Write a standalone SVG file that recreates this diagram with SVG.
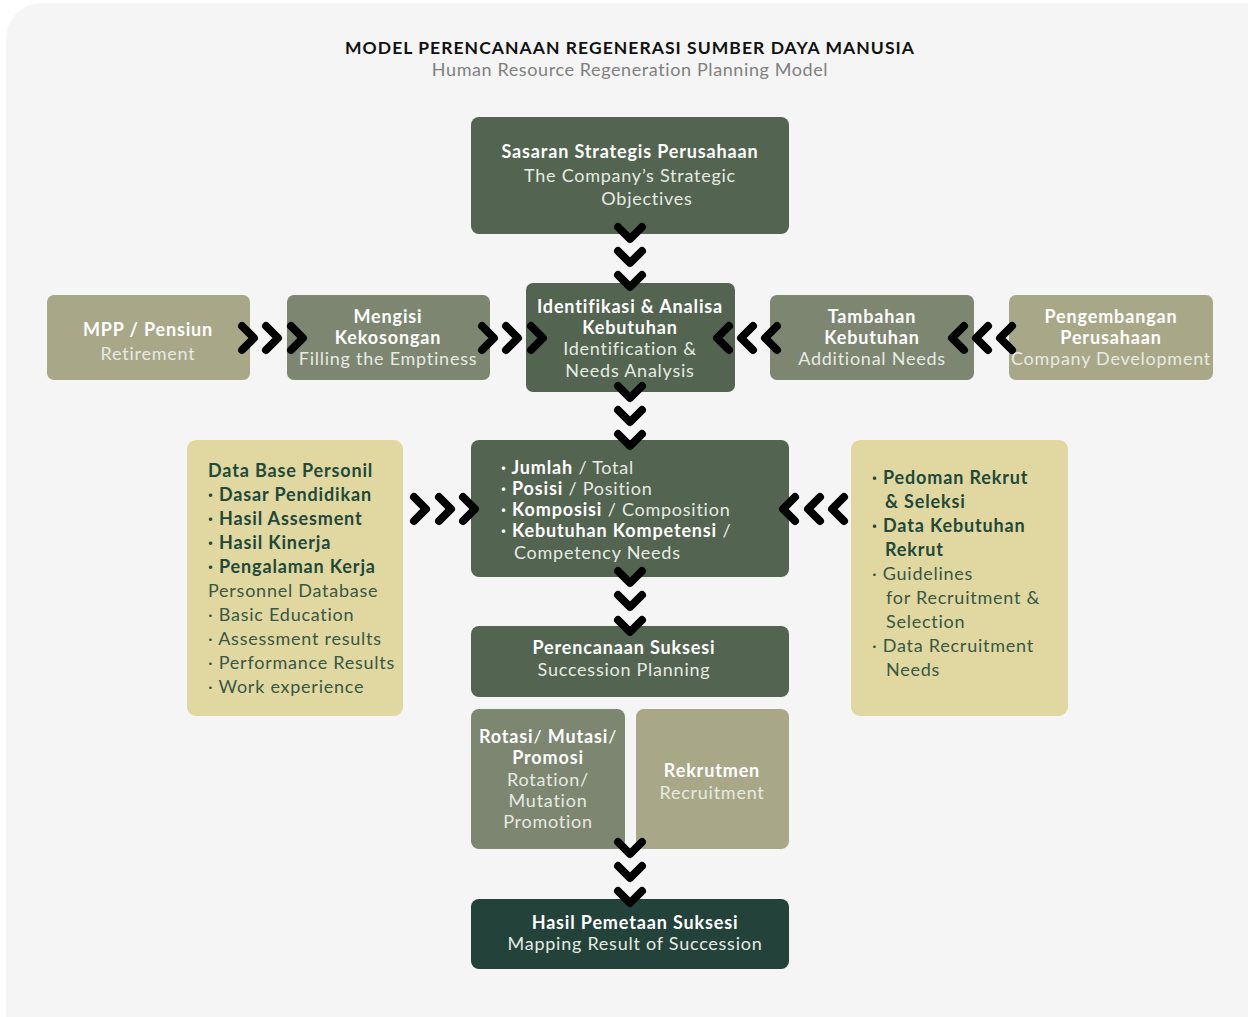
<svg xmlns="http://www.w3.org/2000/svg" width="1248" height="1017" viewBox="0 0 1248 1017">
<defs>
<style>
text{font-family:Lato,"Open Sans","Liberation Sans",sans-serif;font-size:18px;letter-spacing:0.85px}
.b{font-weight:700}
.l{font-weight:400;letter-spacing:0.75px}
.c{text-anchor:middle}
.w{fill:#ffffff}
.wl{fill:#e6eae2}
.d{fill:#22483a}
.dl{fill:#385744}
.chev{fill:none;stroke:#000;stroke-width:8;stroke-linecap:round;stroke-linejoin:round}
.f1{fill:#536451}
.f2{fill:#7d8670}
.f3{fill:#a8a888}
.fy{fill:#e0d8a0}
.fd{fill:#22423a}
</style>
<path id="cd" class="chev" d="M-12,-6 L0,6 L12,-6"/>
<path id="cr" class="chev" d="M-6,-12 L6,0 L-6,12"/>
<path id="cl" class="chev" d="M6,-12 L-6,0 L6,12"/>
</defs>
<rect x="0" y="0" width="1248" height="1017" fill="#ffffff"/>
<rect x="6" y="3" width="1280" height="1060" rx="36" fill="#f5f5f5"/>
<g id="title">
<text class="c" x="630" y="54" fill="#111" style="font-weight:700;font-size:17.5px;letter-spacing:1.05px">MODEL PERENCANAAN REGENERASI SUMBER DAYA MANUSIA</text>
<text class="c" x="630" y="76" fill="#808080" style="letter-spacing:0.6px">Human Resource Regeneration Planning Model</text>
</g>
<g id="n-sasaran">
<rect class="f1" x="471" y="117" width="318" height="117" rx="8"/>
<text class="c b w" x="630" y="158">Sasaran Strategis Perusahaan</text>
<text class="c l wl" x="630" y="182">The Company’s Strategic</text>
<text class="c l wl" x="647" y="205">Objectives</text>
</g>
<g id="n-mpp">
<rect class="f3" x="47" y="295" width="203" height="85" rx="7"/>
<text class="c b w" x="148" y="336">MPP / Pensiun</text>
<text class="c l wl" x="148" y="360">Retirement</text>
</g>
<g id="n-mengisi">
<rect class="f2" x="287" y="295" width="203" height="85" rx="7"/>
<text class="c b w" x="388" y="323">Mengisi</text>
<text class="c b w" x="388" y="344">Kekosongan</text>
<text class="c l wl" x="388" y="365">Filling the Emptiness</text>
</g>
<g id="n-identifikasi">
<rect class="f1" x="526" y="283" width="209" height="109" rx="7"/>
<text class="c b w" x="630" y="313">Identifikasi &amp; Analisa</text>
<text class="c b w" x="630" y="334">Kebutuhan</text>
<text class="c l wl" x="630" y="355">Identification &amp;</text>
<text class="c l wl" x="630" y="377">Needs Analysis</text>
</g>
<g id="n-tambahan">
<rect class="f2" x="770" y="295" width="204" height="85" rx="7"/>
<text class="c b w" x="872" y="323">Tambahan</text>
<text class="c b w" x="872" y="344">Kebutuhan</text>
<text class="c l wl" x="872" y="365">Additional Needs</text>
</g>
<g id="n-pengembangan">
<rect class="f3" x="1009" y="295" width="204" height="85" rx="7"/>
<text class="c b w" x="1111" y="323">Pengembangan</text>
<text class="c b w" x="1111" y="344">Perusahaan</text>
<text class="c l wl" x="1111" y="365">Company Development</text>
</g>
<g id="n-database">
<rect class="fy" x="187" y="440" width="216" height="276" rx="9"/>
<text class="b d" x="208" y="477">Data Base Personil</text>
<text class="b d" x="208" y="501">· Dasar Pendidikan</text>
<text class="b d" x="208" y="525">· Hasil Assesment</text>
<text class="b d" x="208" y="549">· Hasil Kinerja</text>
<text class="b d" x="208" y="573">· Pengalaman Kerja</text>
<text class="l dl" x="208" y="597">Personnel Database</text>
<text class="l dl" x="208" y="621">· Basic Education</text>
<text class="l dl" x="208" y="645">· Assessment results</text>
<text class="l dl" x="208" y="669">· Performance Results</text>
<text class="l dl" x="208" y="693">· Work experience</text>
</g>
<g id="n-komposisi">
<rect class="f1" x="471" y="440" width="318" height="137" rx="8"/>
<text x="501" y="474"><tspan class="b w">· Jumlah</tspan><tspan class="l wl"> / Total</tspan></text>
<text x="501" y="495"><tspan class="b w">· Posisi</tspan><tspan class="l wl"> / Position</tspan></text>
<text x="501" y="516"><tspan class="b w">· Komposisi</tspan><tspan class="l wl"> / Composition</tspan></text>
<text x="501" y="537"><tspan class="b w">· Kebutuhan Kompetensi</tspan><tspan class="l wl"> /</tspan></text>
<text class="l wl" x="514" y="559">Competency Needs</text>
</g>
<g id="n-rekrut-data">
<rect class="fy" x="851" y="440" width="217" height="276" rx="9"/>
<text class="b d" x="872" y="484">· Pedoman Rekrut</text>
<text class="b d" x="885" y="508">&amp; Seleksi</text>
<text class="b d" x="872" y="532">· Data Kebutuhan</text>
<text class="b d" x="885" y="556">Rekrut</text>
<text class="l dl" x="872" y="580">· Guidelines</text>
<text class="l dl" x="886" y="604">for Recruitment &amp;</text>
<text class="l dl" x="886" y="628">Selection</text>
<text class="l dl" x="872" y="652">· Data Recruitment</text>
<text class="l dl" x="886" y="676">Needs</text>
</g>
<g id="n-perencanaan">
<rect class="f1" x="471" y="626" width="318" height="71" rx="8"/>
<text class="c b w" x="624" y="654">Perencanaan Suksesi</text>
<text class="c l wl" x="624" y="676">Succession Planning</text>
</g>
<g id="n-rotasi">
<rect class="f2" x="471" y="709" width="154" height="140" rx="8"/>
<text class="c w" x="548" y="743"><tspan class="b">Rotasi</tspan><tspan class="l">/ </tspan><tspan class="b">Mutasi</tspan><tspan class="l">/</tspan></text>
<text class="c b w" x="548" y="764">Promosi</text>
<text class="c l wl" x="548" y="786">Rotation/</text>
<text class="c l wl" x="548" y="807">Mutation</text>
<text class="c l wl" x="548" y="828">Promotion</text>
</g>
<g id="n-rekrutmen">
<rect class="f3" x="636" y="709" width="153" height="140" rx="8"/>
<text class="c b w" x="712" y="777">Rekrutmen</text>
<text class="c l wl" x="712" y="799">Recruitment</text>
</g>
<g id="n-hasil">
<rect class="fd" x="471" y="899" width="318" height="70" rx="8"/>
<text class="c b w" x="635" y="929">Hasil Pemetaan Suksesi</text>
<text class="c l wl" x="635" y="950">Mapping Result of Succession</text>
</g>
<g id="connectors">
<use href="#cd" x="630" y="233"/><use href="#cd" x="630" y="257"/><use href="#cd" x="630" y="281"/>
<use href="#cd" x="630" y="392"/><use href="#cd" x="630" y="416"/><use href="#cd" x="630" y="440"/>
<use href="#cd" x="630" y="577"/><use href="#cd" x="630" y="601"/><use href="#cd" x="630" y="626"/>
<use href="#cd" x="630" y="848"/><use href="#cd" x="630" y="872"/><use href="#cd" x="630" y="897"/>
<use href="#cr" x="248" y="338"/><use href="#cr" x="272" y="338"/><use href="#cr" x="297" y="338"/>
<use href="#cr" x="488" y="338"/><use href="#cr" x="512" y="338"/><use href="#cr" x="537" y="338"/>
<use href="#cl" x="723" y="338"/><use href="#cl" x="747" y="338"/><use href="#cl" x="771" y="338"/>
<use href="#cl" x="958" y="338"/><use href="#cl" x="982" y="338"/><use href="#cl" x="1006" y="338"/>
<use href="#cr" x="420" y="509"/><use href="#cr" x="445" y="509"/><use href="#cr" x="469" y="509"/>
<use href="#cl" x="789" y="509"/><use href="#cl" x="814" y="509"/><use href="#cl" x="838" y="509"/>
</g>
</svg>
